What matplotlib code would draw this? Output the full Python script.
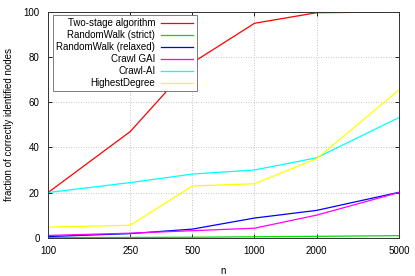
import matplotlib
matplotlib.use("Agg")
import matplotlib.pyplot as plt
from matplotlib.ticker import NullLocator

# x values (graph size n)
n = [100, 250, 500, 1000, 2000, 5000]
n_labels = ["100", "250", "500", "1000", "2000", "5000"]

two_stage = [20, 47, 77.5, 95, 99.7, 100]
rw_strict = [0.1, 0.1, 0.2, 0.4, 0.6, 0.9]
rw_relaxed = [0.5, 1.8, 3.8, 8.7, 12.1, 20.1]
crawl_gai = [1.0, 2.0, 3.1, 4.2, 10.0, 20.0]
crawl_ai = [20, 24.4, 28.2, 30, 35.4, 53.2]
highest_degree = [4.7, 5.5, 22.9, 23.9, 35, 65.4]

series = [
    ("Two-stage algorithm", two_stage, "#ff0000"),
    ("RandomWalk (strict)", rw_strict, "#00dd00"),
    ("RandomWalk (relaxed)", rw_relaxed, "#0000ff"),
    ("Crawl GAI", crawl_gai, "#ff00ff"),
    ("Crawl-AI", crawl_ai, "#00ffff"),
    ("HighestDegree", highest_degree, "#ffff00"),
]

plt.rcParams["font.family"] = ["Liberation Sans", "DejaVu Sans"]
plt.rcParams["font.size"] = 7

fig = plt.figure(figsize=(4.15, 2.76), dpi=100)
ax = fig.add_axes([0.1157, 0.1388, 0.8453, 0.8177])

for label, vals, col in series:
    ax.plot(n, vals, color=col, lw=0.9, label=label)

ax.set_xscale("log")
ax.set_xlim(100, 5000)
ax.set_ylim(0, 100)
ax.set_xticks(n)
ax.set_xticklabels(n_labels)
ax.xaxis.set_minor_locator(NullLocator())
ax.set_yticks([0, 20, 40, 60, 80, 100])

ax.tick_params(direction="in", top=True, right=True, length=3, width=0.6, pad=6)
ax.grid(True, linestyle=(0, (1, 2)), color="#b0b0b0", lw=0.6)
for s in ax.spines.values():
    s.set_linewidth(0.7)
    s.set_color("#333333")

ax.set_xlabel("n", labelpad=7)
ax.set_ylabel("fraction of correctly identified nodes", labelpad=7)

leg = ax.legend(loc="upper left", bbox_to_anchor=(0.014, 0.987),
                borderaxespad=0, markerfirst=False, fancybox=False,
                framealpha=1, edgecolor="#666666", handlelength=3.3,
                borderpad=0.35, labelspacing=0.2, handletextpad=0.6,
                fontsize=7)
leg.get_frame().set_linewidth(0.6)

fig.savefig("out.png", dpi=100)
